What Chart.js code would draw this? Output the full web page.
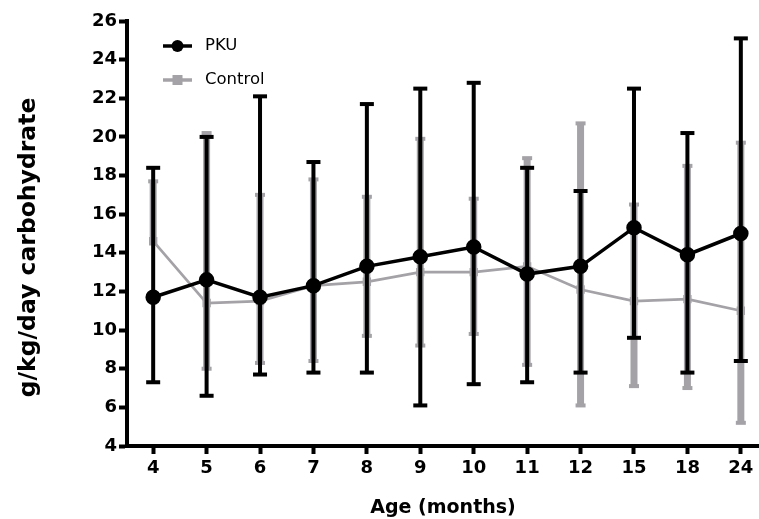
<!DOCTYPE html>
<html>
<head>
<meta charset="utf-8">
<script src="https://cdn.jsdelivr.net/npm/chart.js@4/dist/chart.umd.min.js"></script>
<style>
  html, body { margin: 0; padding: 0; background: #fff; }
  #wrap { width: 759px; height: 519px; }
</style>
</head>
<body>
<div id="wrap"><canvas id="chart" width="759" height="519"></canvas></div>
<script>
// Data
const ageLabels = ['4', '5', '6', '7', '8', '9', '10', '11', '12', '15', '18', '24'];

const pkuMean  = [11.7, 12.6, 11.7, 12.3, 13.3, 13.8, 14.3, 12.9, 13.3, 15.3, 13.9, 15.0];
const pkuUpper = [18.4, 20.0, 22.1, 18.7, 21.7, 22.5, 22.8, 18.4, 17.2, 22.5, 20.2, 25.1];
const pkuLower = [7.3, 6.6, 7.7, 7.8, 7.8, 6.1, 7.2, 7.3, 7.8, 9.6, 7.8, 8.4];

const controlMean  = [14.6, 11.4, 11.5, 12.3, 12.5, 13.0, 13.0, 13.3, 12.1, 11.5, 11.6, 11.0];
const controlUpper = [17.7, 20.2, 17.0, 17.8, 16.9, 19.9, 16.8, 18.9, 20.7, 16.5, 18.5, 19.7];
const controlLower = [14.6, 8.0, 8.3, 8.4, 9.7, 9.2, 9.8, 8.2, 6.1, 7.1, 7.0, 5.2];

const yTicks = [4, 6, 8, 10, 12, 14, 16, 18, 20, 22, 24, 26];

const BLACK = '#000000';
const GREY = '#a4a2a6';

const toPoints = (arr) => arr.map((v, i) => ({ x: i, y: v }));

// error bars drawn under each dataset's line
const errorBarPlugin = {
	id: 'errorBars',
	beforeDatasetDraw(chart, args) {
		const ds = chart.data.datasets[args.index];
		const eb = ds.errorBars;
		if (!eb) return;
		const { ctx } = chart;
		const xs = chart.scales.x;
		const ys = chart.scales.y;
		ctx.save();
		ctx.strokeStyle = eb.color;
		ctx.fillStyle = eb.color;
		ctx.lineWidth = eb.width;
		ctx.lineCap = 'butt';
		eb.upper.forEach((up, i) => {
			const x = xs.getPixelForValue(i);
			const yU = ys.getPixelForValue(up);
			const yL = ys.getPixelForValue(eb.lower[i]);
			ctx.beginPath();
			ctx.moveTo(x, yL);
			ctx.lineTo(x, yU);
			ctx.stroke();
			ctx.fillRect(x - eb.capWidth / 2, yU - eb.capHeight / 2, eb.capWidth, eb.capHeight);
			if (eb.lower[i] !== ds.data[i].y) {
				ctx.fillRect(x - eb.capWidth / 2, yL - eb.capHeight / 2, eb.capWidth, eb.capHeight);
			}
		});
		ctx.restore();
	}
};

// legend + y title, GraphPad style
const decorPlugin = {
	id: 'decor',
	afterDraw(chart) {
		const { ctx, chartArea } = chart;
		ctx.save();
		// y axis title
		ctx.translate(29, (chartArea.top + chartArea.bottom) / 2 + 14);
		ctx.rotate(-Math.PI / 2);
		ctx.font = 'bold 23.5px "DejaVu Sans"';
		ctx.fillStyle = BLACK;
		ctx.textAlign = 'center';
		ctx.textBaseline = 'middle';
		ctx.fillText('g/kg/day carbohydrate', 0, 0);
		ctx.restore();

		const lx = chartArea.left + 36;
		const items = [
			{ text: 'PKU', color: BLACK, y: 46, shape: 'circle', lw: 3.5 },
			{ text: 'Control', color: GREY, y: 80, shape: 'rect', lw: 3.5 }
		];
		ctx.save();
		items.forEach(it => {
			ctx.strokeStyle = it.color;
			ctx.fillStyle = it.color;
			ctx.lineWidth = it.lw;
			ctx.beginPath();
			ctx.moveTo(lx, it.y);
			ctx.lineTo(lx + 29, it.y);
			ctx.stroke();
			if (it.shape === 'circle') {
				ctx.beginPath();
				ctx.arc(lx + 14.5, it.y, 6, 0, Math.PI * 2);
				ctx.fill();
			} else {
				ctx.fillRect(lx + 9.5, it.y - 5, 10, 10);
			}
			ctx.fillStyle = BLACK;
			ctx.font = '16.5px "DejaVu Sans"';
			ctx.textAlign = 'left';
			ctx.textBaseline = 'middle';
			ctx.fillText(it.text, lx + 42, it.y);
		});
		ctx.restore();
	}
};

const ctx = document.getElementById('chart');
new Chart(ctx, {
	type: 'line',
	data: {
		datasets: [
			{
				label: 'PKU',
				data: toPoints(pkuMean),
				borderColor: BLACK,
				backgroundColor: BLACK,
				borderWidth: 3.5,
				pointRadius: 6,
				pointStyle: 'circle',
				tension: 0,
				errorBars: { upper: pkuUpper, lower: pkuLower, color: BLACK, width: 4, capWidth: 14, capHeight: 4 }
			},
			{
				label: 'Control',
				data: toPoints(controlMean),
				borderColor: GREY,
				backgroundColor: GREY,
				borderWidth: 2.7,
				pointRadius: 4,
				pointStyle: 'rect',
				tension: 0,
				errorBars: { upper: controlUpper, lower: controlLower, color: GREY, width: 7, capWidth: 10, capHeight: 4 }
			}
		]
	},
	options: {
		responsive: false,
		animation: false,
		events: [],
		layout: { autoPadding: false, padding: { top: 21, right: 0, bottom: 0, left: 0 } },
		scales: {
			x: {
				type: 'linear',
				min: -0.49,
				max: 11.34,
				afterBuildTicks: (scale) => { scale.ticks = ageLabels.map((_, i) => ({ value: i })); },
				afterFit: (scale) => { scale.height = 73; scale.paddingLeft = 0; scale.paddingRight = 0; },
				grid: { display: true, drawOnChartArea: false, drawTicks: true, tickLength: 8, tickWidth: 4, tickColor: BLACK },
				border: { display: true, color: BLACK, width: 4 },
				ticks: {
					color: BLACK,
					padding: 4,
					maxRotation: 0,
					autoSkip: false,
					font: { family: '"DejaVu Sans"', size: 18, weight: 'bold' },
					callback: (v) => ageLabels[v]
				},
				title: {
					display: true,
					text: 'Age (months)',
					color: BLACK,
					padding: { top: 0, bottom: 0 },
					font: { family: '"DejaVu Sans"', size: 19, weight: 'bold' }
				}
			},
			y: {
				min: 4,
				max: 26,
				afterBuildTicks: (scale) => { scale.ticks = yTicks.map(v => ({ value: v })); },
				afterFit: (scale) => { scale.width = 127; scale.paddingTop = 0; scale.paddingBottom = 0; },
				grid: { display: true, drawOnChartArea: false, drawTicks: true, tickLength: 8, tickWidth: 4, tickColor: BLACK },
				border: { display: true, color: BLACK, width: 4 },
				ticks: {
					color: BLACK,
					padding: 2,
					font: { family: '"DejaVu Sans"', size: 18, weight: 'bold' }
				}
			}
		},
		plugins: {
			legend: { display: false },
			tooltip: { enabled: false }
		}
	},
	plugins: [errorBarPlugin, decorPlugin]
});
</script>
</body>
</html>
